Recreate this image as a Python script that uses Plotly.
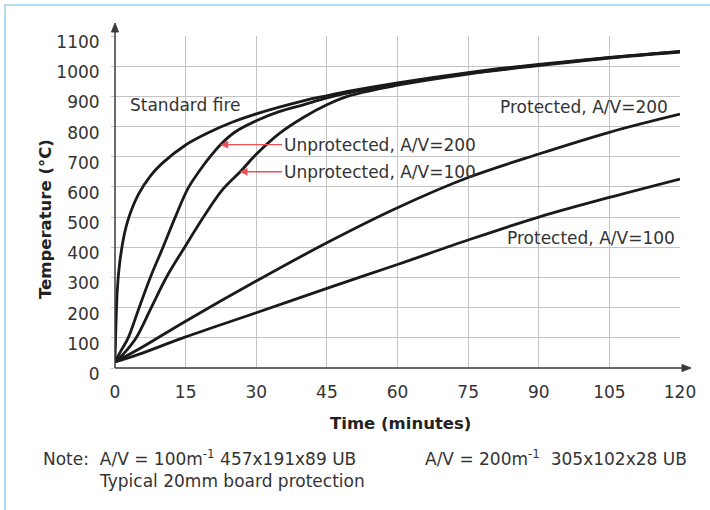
import plotly.graph_objects as go

# ---- data ----
t_std = [0, 0.5, 1, 2, 3, 5, 7.5, 10, 15, 20, 25, 30, 40, 45, 50, 60, 75, 90, 105, 120]
T_std = [20, 261, 349, 445, 502, 576, 636, 678, 739, 781, 815, 842, 885, 902, 918, 945, 979, 1006, 1029, 1049]

t_u200 = [0, 1.2, 2.8, 4.9, 7.5, 10.2, 12.8, 15.5, 17.8, 20.2, 22.4, 25.5, 30, 35, 40, 45, 50, 60, 75, 90, 105, 120]
T_u200 = [20, 55, 100, 190, 300, 400, 500, 595, 650, 700, 740, 782, 819, 850, 872, 895, 913, 941, 976, 1004, 1028, 1048]

t_u100 = [0, 2, 4.5, 7.7, 10.9, 14.8, 18.8, 22.8, 26.7, 30, 35, 40, 45, 50, 60, 75, 90, 105, 120]
T_u100 = [20, 50, 100, 200, 300, 400, 500, 590, 652, 708, 778, 830, 872, 903, 937, 974, 1002, 1027, 1047]

t_p200 = [0, 5, 15, 30, 45, 60, 75, 90, 105, 120]
T_p200 = [20, 62, 155, 288, 415, 531, 631, 709, 781, 841]

t_p100 = [0, 5, 15, 30, 45, 60, 75, 90, 105, 120]
T_p100 = [20, 45, 103, 183, 264, 343, 424, 500, 565, 626]

x_ticks = [0, 15, 30, 45, 60, 75, 90, 105, 120]
y_ticks = [0, 100, 200, 300, 400, 500, 600, 700, 800, 900, 1000, 1100]

# ---- figure ----
W, H = 710, 510
L, R, T, B = 115, 30, 36, 142
PW, PH = W - L - R, H - T - B


def px_x(p):
    return (p - L) / PW


def px_y(p):
    return (H - B - p) / PH


TXT = "#333333"
FONT = "DejaVu Sans"
AXC = "#3a3a3a"

fig = go.Figure()
for tx, ty in [(t_std, T_std), (t_u200, T_u200), (t_u100, T_u100), (t_p200, T_p200), (t_p100, T_p100)]:
    fig.add_trace(go.Scatter(x=tx, y=ty, mode="lines",
                             line=dict(color="#1a1a1a", width=2.8, shape="spline", smoothing=1.0),
                             showlegend=False, hoverinfo="skip"))

lab = dict(family=FONT, size=17, color=TXT)
annotations = []
annotations.append(dict(x=2.8, y=871, xref="x", yref="y", text="Standard fire", showarrow=False,
                        xanchor="left", yanchor="middle", font=lab))
# labels with red pointer arrows (arrow head on the curve, text to the right of the tail)
tail_t = (282 - L) / PW * 120
annotations.append(dict(x=22.4, y=740, xref="x", yref="y", ax=tail_t, ay=740, axref="x", ayref="y",
                        text="Unprotected, A/V=200", xanchor="left", yanchor="middle", font=lab,
                        showarrow=True, arrowhead=2, arrowsize=1.1, arrowwidth=1.4, arrowcolor="#ef4f57"))
annotations.append(dict(x=26.5, y=650, xref="x", yref="y", ax=tail_t, ay=650, axref="x", ayref="y",
                        text="Unprotected, A/V=100", xanchor="left", yanchor="middle", font=lab,
                        showarrow=True, arrowhead=2, arrowsize=1.1, arrowwidth=1.4, arrowcolor="#ef4f57"))
annotations.append(dict(x=117.8, y=866, xref="x", yref="y", text="Protected, A/V=200", showarrow=False,
                        xanchor="right", yanchor="middle", font=lab))
annotations.append(dict(x=119.3, y=430, xref="x", yref="y", text="Protected, A/V=100", showarrow=False,
                        xanchor="right", yanchor="middle", font=lab))
# axis titles
annotations.append(dict(x=px_x(45), y=px_y(219), xref="paper", yref="paper", text="<b>Temperature (°C)</b>",
                        textangle=-90, showarrow=False, xanchor="center", yanchor="middle",
                        font=dict(family=FONT, size=16.5, color="#222222")))
annotations.append(dict(x=px_x(400), y=px_y(423), xref="paper", yref="paper", text="<b>Time (minutes)</b>",
                        showarrow=False, xanchor="center", yanchor="middle",
                        font=dict(family=FONT, size=16.5, color="#222222")))
# notes
annotations.append(dict(x=px_x(41), y=px_y(458), xref="paper", yref="paper",
                        text="Note:  A/V = 100m<sup>-1</sup> 457x191x89 UB", showarrow=False,
                        xanchor="left", yanchor="middle", font=lab))
annotations.append(dict(x=px_x(423), y=px_y(458), xref="paper", yref="paper",
                        text="A/V = 200m<sup>-1</sup>  305x102x28 UB", showarrow=False,
                        xanchor="left", yanchor="middle", font=lab))
annotations.append(dict(x=px_x(97), y=px_y(481), xref="paper", yref="paper",
                        text="Typical 20mm board protection", showarrow=False,
                        xanchor="left", yanchor="middle", font=lab))


def ppath(points):
    return "M " + " L ".join(f"{px_x(a):.5f},{px_y(b):.5f}" for a, b in points) + " Z"


shapes = [
    # light blue frame
    dict(type="rect", xref="paper", yref="paper", x0=px_x(5), x1=px_x(714), y0=px_y(514), y1=px_y(5),
         line=dict(color="#9ccfee", width=1.5), fillcolor="rgba(0,0,0,0)", layer="below"),
    # axis lines
    dict(type="line", xref="paper", yref="paper", x0=px_x(L), x1=px_x(684), y0=0, y1=0,
         line=dict(color=AXC, width=1.5)),
    dict(type="line", xref="paper", yref="paper", x0=0, x1=0, y0=0, y1=px_y(30),
         line=dict(color=AXC, width=1.5)),
    # arrow heads
    dict(type="path", xref="paper", yref="paper", path=ppath([(682, 364.5), (691, 368), (682, 371.5)]),
         fillcolor=AXC, line=dict(color=AXC, width=1)),
    dict(type="path", xref="paper", yref="paper", path=ppath([(111.5, 32), (115, 23), (118.5, 32)]),
         fillcolor=AXC, line=dict(color=AXC, width=1)),
]

fig.update_layout(
    width=W, height=H, margin=dict(l=L, r=R, t=T, b=B),
    paper_bgcolor="white", plot_bgcolor="white",
    annotations=annotations, shapes=shapes,
    xaxis=dict(range=[0, 120], tickvals=x_ticks, ticktext=[str(v) for v in x_ticks],
               showgrid=True, gridcolor="#c4c4c4", gridwidth=1.3, zeroline=False, showline=False,
               ticks="", ticklabelstandoff=12, tickfont=dict(family=FONT, size=17, color=TXT), fixedrange=True),
    yaxis=dict(range=[0, 1100], tickvals=y_ticks, ticktext=[str(v) for v in y_ticks],
               showgrid=True, gridcolor="#c4c4c4", gridwidth=1.3, zeroline=False, showline=False,
               ticks="outside", ticklen=3, tickcolor="#c4c4c4", ticklabelstandoff=8, ticklabelshift=6,
               tickfont=dict(family=FONT, size=17, color=TXT), fixedrange=True),
)

fig.write_html("out.html", config={"displayModeBar": False},
               post_script="document.body.style.margin='0';")
